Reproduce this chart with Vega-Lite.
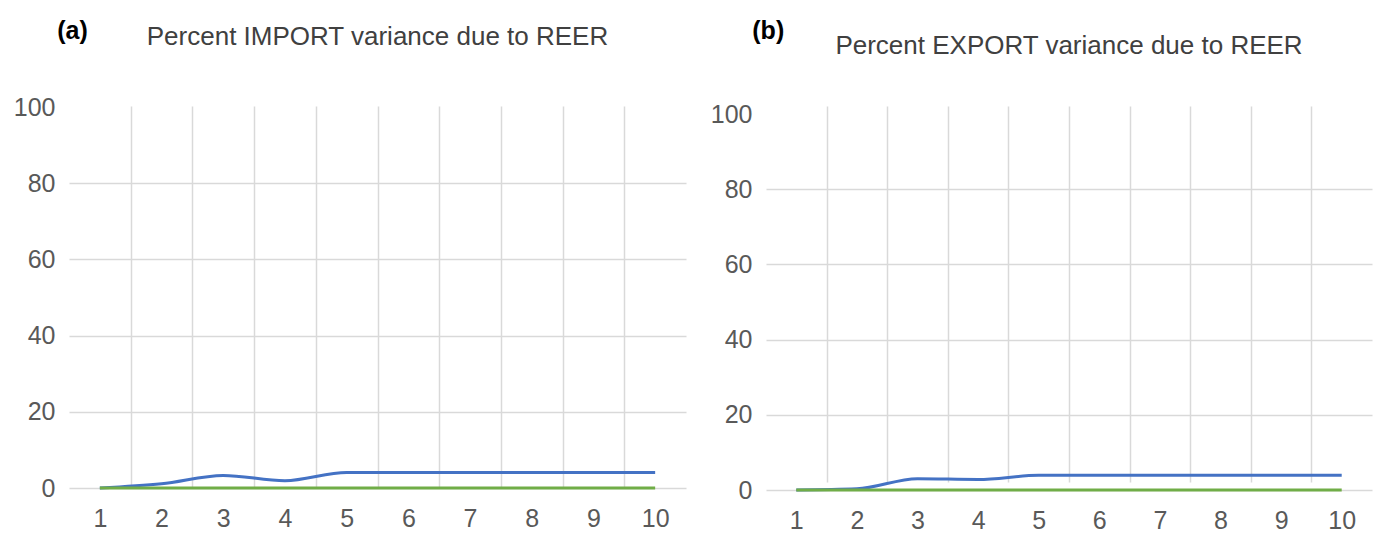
{
  "$schema": "https://vega.github.io/schema/vega-lite/v6.json",
  "background": "white",
  "padding": {"left": 13, "top": 19, "right": 10, "bottom": 5},
  "config": {
    "view": {"stroke": null},
    "font": "Liberation Sans",
    "axis": {
      "labelFont": "Liberation Sans",
      "labelFontSize": 25,
      "labelColor": "#595959",
      "gridColor": "#d9d9d9",
      "gridWidth": 1.5,
      "title": null
    },
    "title": {"font": "Liberation Sans", "fontSize": 26, "fontWeight": "normal", "color": "#404040"},
    "concat": {"spacing": 24}
  },
  "datasets": {
    "vd": [
      {"panel": "a", "series": "blue", "period": 1, "value": 0},
      {"panel": "a", "series": "blue", "period": 2, "value": 1.1},
      {"panel": "a", "series": "blue", "period": 3, "value": 3.3},
      {"panel": "a", "series": "blue", "period": 4, "value": 1.9},
      {"panel": "a", "series": "blue", "period": 5, "value": 4.1},
      {"panel": "a", "series": "blue", "period": 6, "value": 4.1},
      {"panel": "a", "series": "blue", "period": 7, "value": 4.1},
      {"panel": "a", "series": "blue", "period": 8, "value": 4.1},
      {"panel": "a", "series": "blue", "period": 9, "value": 4.1},
      {"panel": "a", "series": "blue", "period": 10, "value": 4.1},
      {"panel": "a", "series": "green", "period": 1, "value": 0},
      {"panel": "a", "series": "green", "period": 2, "value": 0},
      {"panel": "a", "series": "green", "period": 3, "value": 0},
      {"panel": "a", "series": "green", "period": 4, "value": 0},
      {"panel": "a", "series": "green", "period": 5, "value": 0},
      {"panel": "a", "series": "green", "period": 6, "value": 0},
      {"panel": "a", "series": "green", "period": 7, "value": 0},
      {"panel": "a", "series": "green", "period": 8, "value": 0},
      {"panel": "a", "series": "green", "period": 9, "value": 0},
      {"panel": "a", "series": "green", "period": 10, "value": 0},
      {"panel": "b", "series": "blue", "period": 1, "value": 0},
      {"panel": "b", "series": "blue", "period": 2, "value": 0.3},
      {"panel": "b", "series": "blue", "period": 3, "value": 3.0},
      {"panel": "b", "series": "blue", "period": 4, "value": 2.8},
      {"panel": "b", "series": "blue", "period": 5, "value": 3.9},
      {"panel": "b", "series": "blue", "period": 6, "value": 3.9},
      {"panel": "b", "series": "blue", "period": 7, "value": 3.9},
      {"panel": "b", "series": "blue", "period": 8, "value": 3.9},
      {"panel": "b", "series": "blue", "period": 9, "value": 3.9},
      {"panel": "b", "series": "blue", "period": 10, "value": 3.9},
      {"panel": "b", "series": "green", "period": 1, "value": 0},
      {"panel": "b", "series": "green", "period": 2, "value": 0},
      {"panel": "b", "series": "green", "period": 3, "value": 0},
      {"panel": "b", "series": "green", "period": 4, "value": 0},
      {"panel": "b", "series": "green", "period": 5, "value": 0},
      {"panel": "b", "series": "green", "period": 6, "value": 0},
      {"panel": "b", "series": "green", "period": 7, "value": 0},
      {"panel": "b", "series": "green", "period": 8, "value": 0},
      {"panel": "b", "series": "green", "period": 9, "value": 0},
      {"panel": "b", "series": "green", "period": 10, "value": 0}
    ]
  },
  "hconcat": [
    {
      "title": {"text": "(a)", "anchor": "start", "fontWeight": "bold", "fontSize": 25, "color": "#000000", "dx": 44, "dy": 24},
      "hconcat": [
        {
          "title": {"text": "Percent IMPORT variance due to REER", "offset": 45},
          "width": 617,
          "height": 382,
          "data": {"name": "vd"},
          "transform": [{"filter": "datum.panel === 'a'"}],
          "resolve": {"axis": {"x": "independent", "y": "independent"}},
          "layer": [
            {
              "transform": [{"filter": "datum.series === 'blue'"}],
              "mark": {"type": "line", "color": "#4472C4", "strokeWidth": 3, "interpolate": "monotone"},
              "encoding": {
                "x": {"field": "period", "type": "quantitative", "scale": {"domain": [0.5, 10.5], "nice": false, "zero": false},
                      "axis": {"orient": "bottom", "values": [1.5, 2.5, 3.5, 4.5, 5.5, 6.5, 7.5, 8.5, 9.5], "grid": true, "labels": false, "ticks": false, "domain": false}},
                "y": {"field": "value", "type": "quantitative", "scale": {"domain": [0, 100], "nice": false, "range": [382, 1]},
                      "axis": {"orient": "left", "values": [0, 20, 40, 60, 80], "grid": true, "labels": false, "ticks": false, "domain": false}}
              }
            },
            {
              "transform": [{"filter": "datum.series === 'green'"}],
              "mark": {"type": "line", "color": "#70AD47", "strokeWidth": 3, "interpolate": "monotone"},
              "encoding": {
                "x": {"field": "period", "type": "quantitative",
                      "axis": {"orient": "bottom", "values": [1, 2, 3, 4, 5, 6, 7, 8, 9, 10], "grid": false, "ticks": false, "domain": false, "labelPadding": 18}},
                "y": {"field": "value", "type": "quantitative",
                      "axis": {"orient": "left", "values": [0, 20, 40, 60, 80, 100], "grid": false, "ticks": false, "domain": false, "labelPadding": 14}}
              }
            }
          ]
        }
      ]
    },
    {
      "title": {"text": "(b)", "anchor": "start", "fontWeight": "bold", "fontSize": 25, "color": "#000000", "dx": 42, "dy": 15},
      "hconcat": [
        {
          "title": {"text": "Percent EXPORT variance due to REER", "offset": 43},
          "width": 606,
          "height": 384,
          "data": {"name": "vd"},
          "transform": [{"filter": "datum.panel === 'b'"}],
          "resolve": {"axis": {"x": "independent", "y": "independent"}},
          "layer": [
            {
              "transform": [{"filter": "datum.series === 'blue'"}],
              "mark": {"type": "line", "color": "#4472C4", "strokeWidth": 3, "interpolate": "monotone"},
              "encoding": {
                "x": {"field": "period", "type": "quantitative", "scale": {"domain": [0.5, 10.5], "nice": false, "zero": false},
                      "axis": {"orient": "bottom", "values": [1.5, 2.5, 3.5, 4.5, 5.5, 6.5, 7.5, 8.5, 9.5], "grid": true, "labels": false, "ticks": false, "domain": false}},
                "y": {"field": "value", "type": "quantitative", "scale": {"domain": [0, 100], "nice": false, "range": [384, 8]},
                      "axis": {"orient": "left", "values": [0, 20, 40, 60, 80], "grid": true, "labels": false, "ticks": false, "domain": false}}
              }
            },
            {
              "transform": [{"filter": "datum.series === 'green'"}],
              "mark": {"type": "line", "color": "#70AD47", "strokeWidth": 3, "interpolate": "monotone"},
              "encoding": {
                "x": {"field": "period", "type": "quantitative",
                      "axis": {"orient": "bottom", "values": [1, 2, 3, 4, 5, 6, 7, 8, 9, 10], "grid": false, "ticks": false, "domain": false, "labelPadding": 18}},
                "y": {"field": "value", "type": "quantitative",
                      "axis": {"orient": "left", "values": [0, 20, 40, 60, 80, 100], "grid": false, "ticks": false, "domain": false, "labelPadding": 14}}
              }
            }
          ]
        }
      ]
    }
  ]
}
